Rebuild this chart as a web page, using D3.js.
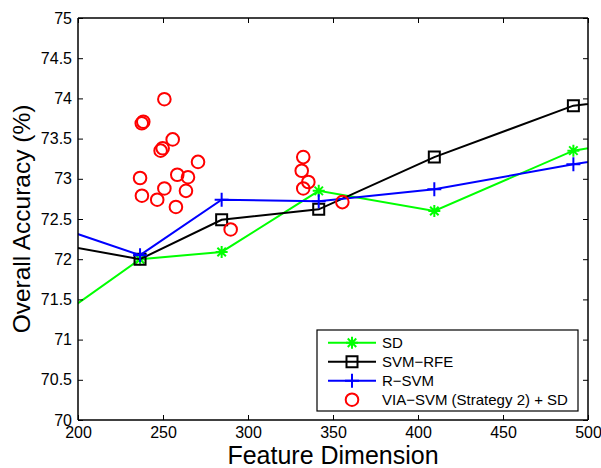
<!DOCTYPE html>
<html>
<head>
<meta charset="utf-8">
<script src="https://cdn.jsdelivr.net/npm/d3@7"></script>
<style>
  body { margin: 0; background: #fff; }
  svg { display: block; font-family: "Liberation Sans", Arial, sans-serif; }
</style>
</head>
<body>
<div id="chart"></div>
<script>
// series values (points outside 200..500 are clipped, as in the original)
const sdX = [150, 236.5, 284.5, 341.6, 409.6, 491.4, 560]
const sdY = [70.70, 72.0, 72.09, 72.85, 72.60, 73.35, 73.59]
const rfeX = [150, 236.5, 284.5, 341.6, 409.6, 491.4, 560]
const rfeY = [72.33, 72.0, 72.49, 72.62, 73.27, 73.91, 74.07]
const rsvmX = [150, 236.5, 284.5, 341.6, 409.6, 491.4, 560]
const rsvmY = [72.67, 72.05, 72.74, 72.72, 72.87, 73.18, 73.42]
const viaX = [250.8, 238.4, 237.5, 255.7, 249.8, 248.6, 270.6, 236.5, 258.4, 264.7,
  250.8, 263.5, 237.6, 246.6, 257.6, 289.8, 332.5, 331.6, 335.5, 332.5, 355.5]
const viaY = [73.99, 73.71, 73.69, 73.49, 73.38, 73.35, 73.21, 73.01, 73.05, 73.02,
  72.88, 72.85, 72.79, 72.74, 72.65, 72.37, 73.27, 73.10, 72.96, 72.88, 72.71]
const xTicks = [200, 250, 300, 350, 400, 450, 500]
const yTicks = [70, 70.5, 71, 71.5, 72, 72.5, 73, 73.5, 74, 74.5, 75]
const legendLabels = ["SD", "SVM\u2212RFE", "R\u2212SVM", "VIA\u2212SVM (Strategy 2) + SD"]

const width = 601, height = 468
const marginLeft = 78, marginRight = 13, marginTop = 18, marginBottom = 48

const x = d3.scaleLinear().domain([200, 500]).range([marginLeft, width - marginRight])
const y = d3.scaleLinear().domain([70, 75]).range([height - marginBottom, marginTop])

const svg = d3.select("#chart").append("svg")
  .attr("width", width)
  .attr("height", height)

svg.append("clipPath").attr("id", "plot")
  .append("rect")
  .attr("x", x(200)).attr("y", y(75))
  .attr("width", x(500) - x(200)).attr("height", y(70) - y(75))

// marker shapes, like matlab's '*', 's', '+', 'o'
const star = r => {
  const d = r * Math.SQRT1_2
  return `M${-r},0L${r},0M0,${-r}L0,${r}M${-d},${-d}L${d},${d}M${-d},${d}L${d},${-d}`
}
const square = r => `M${-r},${-r}H${r}V${r}H${-r}Z`
const plus = r => `M${-r},0H${r}M0,${-r}V${r}`

const series = [
  { xs: sdX, ys: sdY, color: "#00ff00", marker: star(6), fill: "none" },
  { xs: rfeX, ys: rfeY, color: "#000000", marker: square(5.5), fill: "none" },
  { xs: rsvmX, ys: rsvmY, color: "#0000ff", marker: plus(7), fill: "none" }
]

const line = d3.line().x(d => x(d[0])).y(d => y(d[1]))

const plot = svg.append("g").attr("clip-path", "url(#plot)")

// axes box and ticks (inside, mirrored on top/right like matlab)
const axisBottom = svg.append("g")
  .attr("transform", `translate(0,${y(70)})`)
  .call(d3.axisBottom(x).tickValues(xTicks).tickSize(-5).tickPadding(7).tickFormat(d3.format("d")))
const axisLeft = svg.append("g")
  .attr("transform", `translate(${x(200)},0)`)
  .call(d3.axisLeft(y).tickValues(yTicks).tickSize(-5).tickPadding(6).tickFormat(d => d))
const axisTop = svg.append("g")
  .attr("transform", `translate(0,${y(75)})`)
  .call(d3.axisTop(x).tickValues(xTicks).tickSize(-5).tickFormat(""))
const axisRight = svg.append("g")
  .attr("transform", `translate(${x(500)},0)`)
  .call(d3.axisRight(y).tickValues(yTicks).tickSize(-5).tickFormat(""))

for (const a of [axisBottom, axisLeft, axisTop, axisRight]) {
  a.select(".domain").attr("stroke", "#000").attr("stroke-width", 1.5)
  a.selectAll(".tick line").attr("stroke", "#000").attr("stroke-width", 1)
  a.selectAll(".tick text")
    .attr("font-size", 16)
    .attr("fill", "#000")
    .attr("font-family", "'Liberation Sans', Arial, sans-serif")
}
axisTop.select(".domain").attr("d", `M${x(200)},0H${x(500)}`)
axisRight.select(".domain").attr("d", `M0,${y(70)}V${y(75)}`)
axisBottom.select(".domain").attr("d", `M${x(200)},0H${x(500)}`)
axisLeft.select(".domain").attr("d", `M0,${y(70)}V${y(75)}`)

// lines + markers
series.forEach(s => {
  const pts = s.xs.map((v, i) => [v, s.ys[i]])
  plot.append("path")
    .datum(pts)
    .attr("fill", "none")
    .attr("stroke", s.color)
    .attr("stroke-width", 2)
    .attr("d", line)
  plot.selectAll(null)
    .data(pts)
    .join("path")
    .attr("transform", d => `translate(${x(d[0])},${y(d[1])})`)
    .attr("d", s.marker)
    .attr("fill", s.fill)
    .attr("stroke", s.color)
    .attr("stroke-width", 2)
})

plot.selectAll(null)
  .data(viaX.map((v, i) => [v, viaY[i]]))
  .join("circle")
  .attr("cx", d => x(d[0]))
  .attr("cy", d => y(d[1]))
  .attr("r", 6.3)
  .attr("fill", "none")
  .attr("stroke", "#ff0000")
  .attr("stroke-width", 2)

// axis titles
svg.append("text")
  .attr("x", (x(200) + x(500)) / 2)
  .attr("y", 464)
  .attr("text-anchor", "middle")
  .attr("font-size", 25)
  .text("Feature Dimension")

svg.append("text")
  .attr("transform", `translate(30,${(y(70) + y(75)) / 2}) rotate(-90)`)
  .attr("text-anchor", "middle")
  .attr("font-size", 24.5)
  .text("Overall Accuracy (%)")

// legend
const legend = svg.append("g").attr("transform", "translate(317,330)")
legend.append("rect")
  .attr("width", 261).attr("height", 81)
  .attr("fill", "#fff").attr("stroke", "#000").attr("stroke-width", 1.2)

const legendItems = [
  { color: "#00ff00", marker: star(6), line: true },
  { color: "#000000", marker: square(5.5), line: true },
  { color: "#0000ff", marker: plus(7), line: true },
  { color: "#ff0000", marker: null, line: false }
]
legendItems.forEach((it, i) => {
  const g = legend.append("g").attr("transform", `translate(0,${12.7 + i * 19})`)
  if (it.line) {
    g.append("line").attr("x1", 11).attr("x2", 59)
      .attr("stroke", it.color).attr("stroke-width", 2)
    g.append("path").attr("transform", "translate(35,0)")
      .attr("d", it.marker).attr("fill", "none")
      .attr("stroke", it.color).attr("stroke-width", 2)
  } else {
    g.append("circle").attr("cx", 35).attr("r", 6.3)
      .attr("fill", "none").attr("stroke", it.color).attr("stroke-width", 2)
  }
  g.append("text")
    .attr("x", 65).attr("y", 5.5)
    .attr("font-size", 15)
    .text(legendLabels[i])
})
</script>
</body>
</html>
